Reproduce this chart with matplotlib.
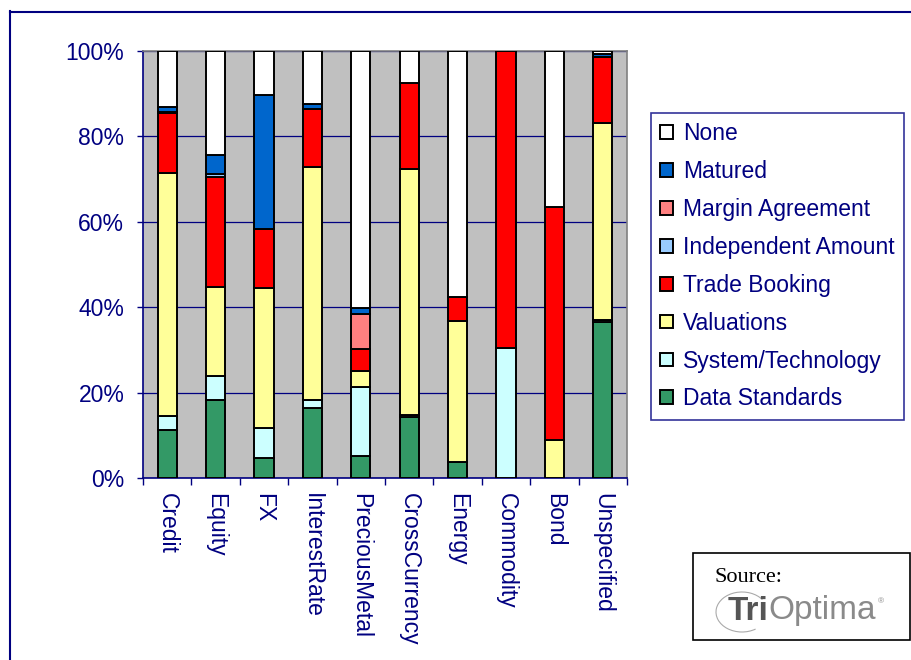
import numpy as np
import matplotlib
matplotlib.use("Agg")
import matplotlib.pyplot as plt
from matplotlib.patches import Rectangle, Arc
from matplotlib.lines import Line2D

plt.rcParams['font.family'] = ['Liberation Sans', 'DejaVu Sans']

categories = ["Credit", "Equity", "FX", "InterestRate", "PreciousMetal",
              "CrossCurrency", "Energy", "Commodity", "Bond", "Unspecified"]

# share of breaks by cause (%), stacked from bottom to top
data_standards = [11.2, 18.3, 4.6, 16.3, 5.2, 14.3, 3.7, 0.0, 0.0, 36.5]
system_technology = [3.3, 5.6, 7.0, 2.0, 16.2, 0.5, 0.0, 30.4, 0.0, 0.5]
valuations = [57.0, 20.8, 32.8, 54.6, 3.7, 57.6, 33.1, 0.0, 8.9, 46.2]
trade_booking = [14.0, 25.9, 13.9, 13.5, 5.2, 20.2, 5.7, 69.6, 54.6, 15.3]
independent_amount = [0.3, 0.5, 0.0, 0.0, 0.0, 0.0, 0.0, 0.0, 0.0, 0.0]
margin_agreement = [0.0, 0.0, 0.0, 0.0, 8.0, 0.0, 0.0, 0.0, 0.0, 0.0]
matured = [1.0, 4.5, 31.4, 1.1, 1.4, 0.0, 0.0, 0.0, 0.0, 0.8]
none = [13.2, 24.4, 10.3, 12.5, 60.3, 7.4, 57.5, 0.0, 36.5, 0.7]

series = [
    ("Data Standards", data_standards, "#339966"),
    ("System/Technology", system_technology, "#CCFFFF"),
    ("Valuations", valuations, "#FFFF99"),
    ("Trade Booking", trade_booking, "#FF0000"),
    ("Independent Amount", independent_amount, "#99CCFF"),
    ("Margin Agreement", margin_agreement, "#FF8080"),
    ("Matured", matured, "#0066CC"),
    ("None", none, "#FFFFFF"),
]

NAVY = "#000080"
FS = 16.5
W, H = 911, 660
fig = plt.figure(figsize=(W / 100, H / 100), dpi=100)
ax = fig.add_axes([143 / W, 1 - 478 / H, (627 - 143) / W, (478 - 51) / H])
ax.set_facecolor("#C0C0C0")

x = np.arange(len(categories))
bottom = np.zeros(len(categories))
handles = []
for name, vals, color in series:
    vals = np.asarray(vals, dtype=float)
    keep = vals > 0
    ax.bar(x[keep], vals[keep], width=0.4, bottom=bottom[keep], color=color,
           edgecolor="black", linewidth=1.4, zorder=3)
    handles.append(Rectangle((0, 0), 1, 1, facecolor=color, edgecolor="black",
                             linewidth=1.4, label=name))
    bottom += vals

ax.set_xlim(-0.5, len(categories) - 0.5)
ax.set_ylim(0, 100)
ax.set_yticks(np.arange(0, 101, 20))
ax.set_yticklabels([f"{v}%" for v in range(0, 101, 20)])
ax.yaxis.grid(True, color=NAVY, linewidth=0.9, zorder=0)
ax.set_axisbelow(True)

ax.set_xticks(np.arange(-0.5, len(categories), 1))
ax.set_xticklabels([])
ax.set_xticks(x, minor=True)
ax.set_xticklabels(categories, minor=True, rotation=270, va="top", ha="center")
ax.tick_params(axis="x", which="major", direction="out", length=5, color=NAVY, width=1)
ax.tick_params(axis="x", which="minor", length=0, pad=11, labelsize=FS, labelcolor=NAVY)
ax.tick_params(axis="y", direction="out", length=4.5, color=NAVY, width=1,
               labelsize=FS, labelcolor=NAVY, pad=9)

for side in ("left", "bottom"):
    ax.spines[side].set_color(NAVY)
    ax.spines[side].set_linewidth(1.2)
for side in ("top", "right"):
    ax.spines[side].set_color("#808080")
    ax.spines[side].set_linewidth(1.2)

leg = fig.legend(handles=handles[::-1], loc="upper left",
                 bbox_to_anchor=(651 / W, 1 - 113 / H), fontsize=FS,
                 frameon=True, fancybox=False, edgecolor=NAVY,
                 handlelength=0.55, handleheight=0.55, handletextpad=0.45,
                 labelspacing=0.65, borderpad=0.4, borderaxespad=0)
leg.get_frame().set_linewidth(1.2)
for t in leg.get_texts():
    t.set_color(NAVY)

# outer chart frame (left and top edges)
fig.add_artist(Line2D([9.5 / W, 9.5 / W], [0, 1 - 11 / H], color=NAVY, linewidth=1.5))
fig.add_artist(Line2D([9.5 / W, 1], [1 - 11.5 / H, 1 - 11.5 / H], color=NAVY, linewidth=1.5))

# source box with logo wordmark
fig.add_artist(Rectangle((693 / W, 1 - 640 / H), (910 - 693) / W, (640 - 553) / H,
                         transform=fig.transFigure, facecolor="white",
                         edgecolor="black", linewidth=1.2))
fig.text(714 / W, 1 - 578 / H, "Source:", family=["Liberation Serif"], fontsize=16,
         color="black", va="center", ha="left")
fig.add_artist(Arc((742 / W, 1 - 612 / H), 52 / W, 40 / H, theta1=40, theta2=300,
                   transform=fig.transFigure, color="#AAAAAA", linewidth=0.8))
t1 = fig.text(728 / W, 1 - 611 / H, "Tri", fontsize=24, fontweight="bold",
              color="#555555", va="center", ha="left")
fig.canvas.draw()
bb = t1.get_window_extent()
t2 = fig.text(bb.x1 / W, 1 - 611 / H, "Optima", fontsize=24, color="#8A8A8A",
              va="center", ha="left")
bb2 = t2.get_window_extent()
fig.text(bb2.x1 / W + 0.002, 1 - 602 / H, "®", fontsize=6, color="#8A8A8A",
         va="center", ha="left")

fig.savefig("out.png", dpi=100)
